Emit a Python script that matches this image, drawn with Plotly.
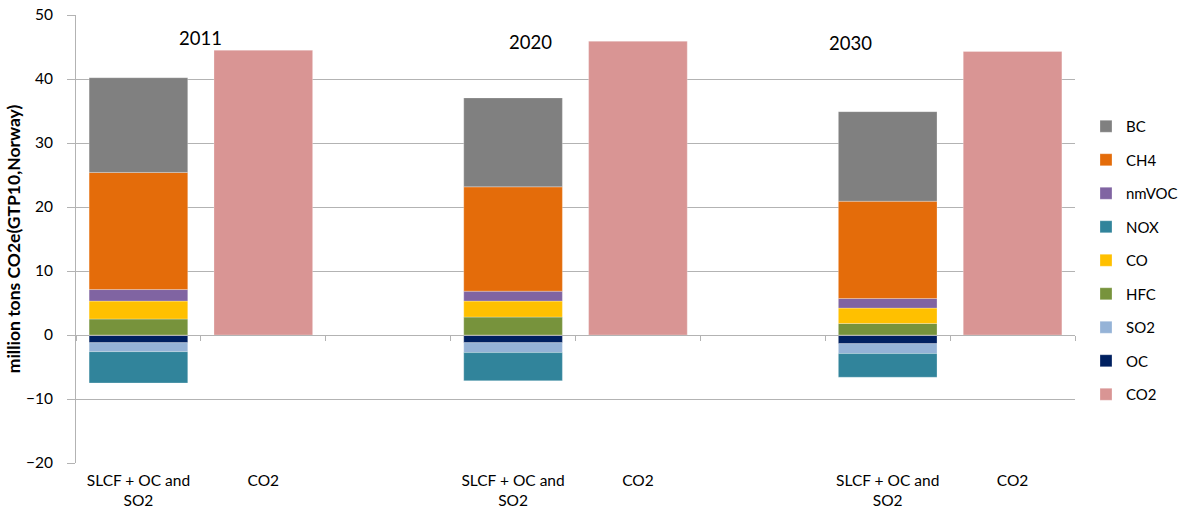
import plotly.graph_objects as go

# ---------------- data ----------------
years = ["2011", "2020", "2030"]
bar_labels = ["SLCF + OC and<br>SO2", "CO2"]

# SLCF components (million tons CO2e, GTP10 Norway) per year
BC = [14.8, 13.9, 14.0]
CH4 = [18.3, 16.3, 15.2]
nmVOC = [1.8, 1.55, 1.5]
NOX = [-4.9, -4.4, -3.7]
CO = [2.8, 2.5, 2.4]
HFC = [2.5, 2.8, 1.8]
SO2 = [-1.4, -1.55, -1.55]
OC = [-1.2, -1.2, -1.35]
CO2 = [44.5, 45.9, 44.3]

# Excel series order (stacking order); legend is reversed
series = [
    ("CO2", CO2, "#D99594"),
    ("OC", OC, "#002060"),
    ("SO2", SO2, "#95B3D7"),
    ("HFC", HFC, "#77933C"),
    ("CO", CO, "#FFC000"),
    ("NOX", NOX, "#31849B"),
    ("nmVOC", nmVOC, "#8064A2"),
    ("CH4", CH4, "#E46C0A"),
    ("BC", BC, "#808080"),
]

# year label annotation anchors (text boxes in original chart)
year_label_x = [0.5, 3.14, 5.7]
year_label_y = [46.4, 45.8, 45.6]

# ---------------- layout helpers ----------------
slots_per_year = 3
n_slots = slots_per_year * len(years) - 1
slcf_x = [slots_per_year * i for i in range(len(years))]
co2_x = [slots_per_year * i + 1 for i in range(len(years))]

tick_vals = []
tick_text = []
for i in range(len(years)):
    tick_vals += [slcf_x[i], co2_x[i]]
    tick_text += bar_labels

FONT = "Lato, 'Open Sans', sans-serif"
GRID = "#B3B3B3"

fig = go.Figure()
n = len(series)
for k, (name, vals, color) in enumerate(series):
    xs = co2_x if name == "CO2" else slcf_x
    fig.add_trace(go.Bar(
        x=xs, y=vals, name=name,
        marker=dict(color=color, line=dict(width=0.6, color="rgba(255,255,255,0.45)")),
        width=0.79,
        legendgroup=name, legendrank=n - k,
    ))

# invisible trace for the zero-line category axis
fig.add_trace(go.Scatter(x=[-0.5, n_slots - 0.5], y=[None, None], xaxis="x2",
                         showlegend=False, hoverinfo="skip", mode="lines"))

for yr, ax, ay in zip(years, year_label_x, year_label_y):
    fig.add_annotation(x=ax, y=ay, text=yr, showarrow=False,
                       font=dict(size=18.5, color="#000000", family=FONT),
                       xref="x", yref="y")

fig.update_layout(
    width=1186, height=516,
    margin=dict(l=76, r=111, t=15, b=53, autoexpand=False),
    paper_bgcolor="white", plot_bgcolor="white",
    barmode="relative",
    font=dict(family=FONT, color="#000000"),
    legend=dict(x=1.011, xanchor="left", y=0.452, yanchor="middle",
                traceorder="grouped", tracegroupgap=11,
                font=dict(size=15, family=FONT, color="#000000"),
                itemwidth=30),
    xaxis=dict(range=[-0.5, n_slots - 0.5], tickmode="array",
               tickvals=tick_vals, ticktext=tick_text,
               showgrid=False, zeroline=False, showline=False, ticks="",
               ticklabelstandoff=6,
               tickfont=dict(size=15.5, family=FONT, color="#000000")),
    xaxis2=dict(overlaying="x", anchor="free", position=20 / 70,
                range=[-0.5, n_slots - 0.5], tickmode="array",
                tickvals=[v - 0.5 for v in range(n_slots + 1)],
                showticklabels=False, showgrid=False, zeroline=False,
                showline=True, linecolor=GRID, linewidth=1,
                ticks="outside", ticklen=5, tickcolor=GRID, tickwidth=1),
    yaxis=dict(range=[-20, 50], dtick=10, tick0=0,
               showgrid=True, gridcolor=GRID, gridwidth=1,
               zeroline=False,
               showline=True, linecolor=GRID, linewidth=1,
               ticks="outside", ticklen=8, tickcolor=GRID,
               ticklabelstandoff=11,
               tickfont=dict(size=15.5, family=FONT, color="#000000"),
               title=dict(text="<b>million tons CO2e(GTP10,Norway)</b>",
                          font=dict(size=17.5, family=FONT, color="#000000"),
                          standoff=0)),
)

fig.write_html("out.html")
